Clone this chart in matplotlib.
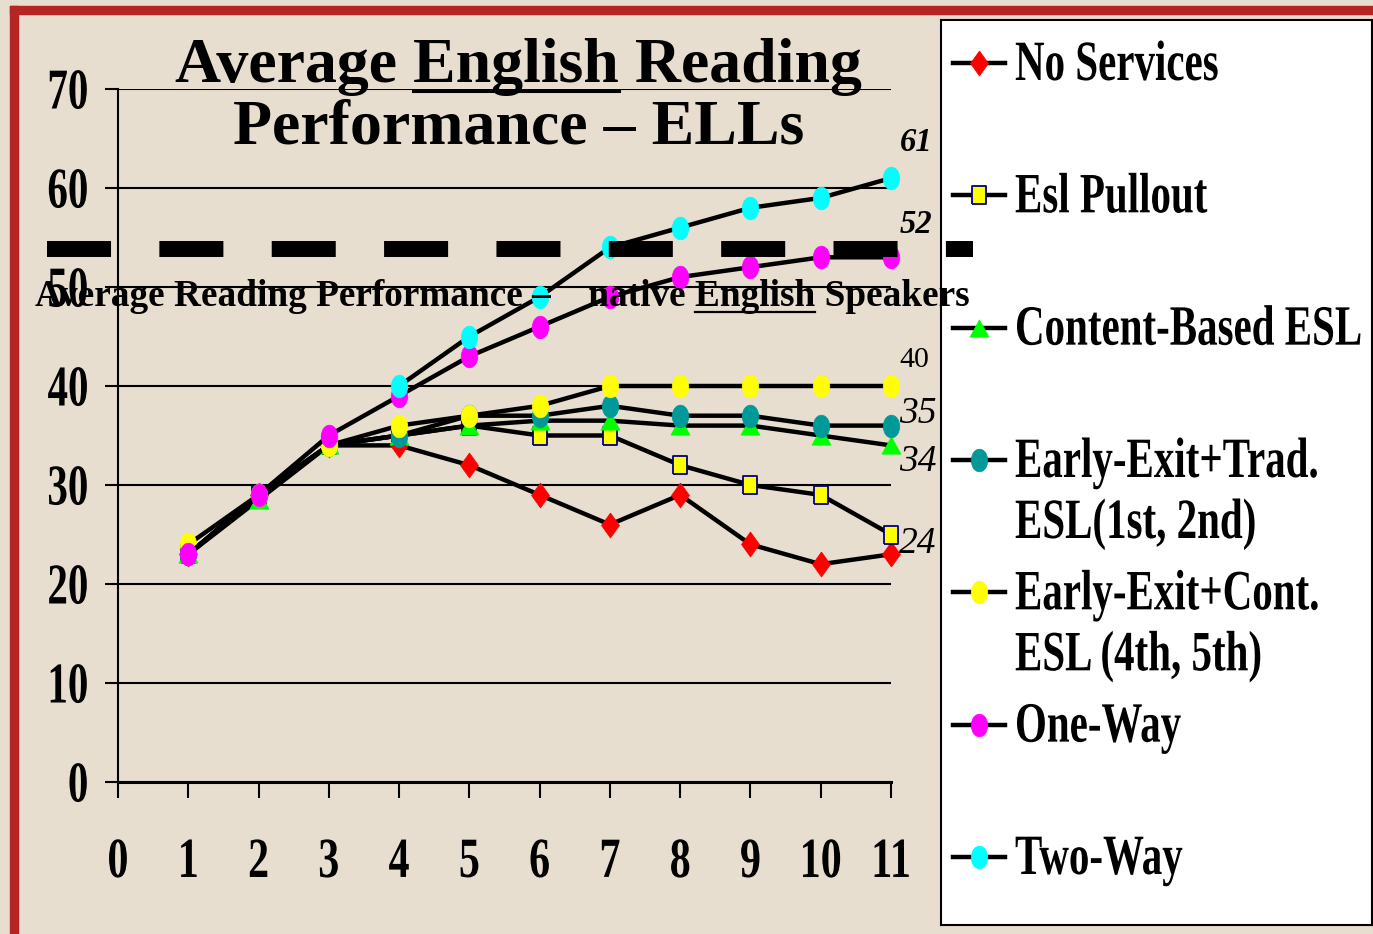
import numpy as np
import matplotlib
matplotlib.use('Agg')
import matplotlib.pyplot as plt
from matplotlib.path import Path
from matplotlib.transforms import Affine2D
from matplotlib.patheffects import AbstractPathEffect
from matplotlib.patches import Rectangle
from matplotlib.lines import Line2D

plt.rcParams['font.family'] = ['Liberation Serif', 'DejaVu Serif']
plt.rcParams['lines.scale_dashes'] = False

# ---- data ----
grades = [1, 2, 3, 4, 5, 6, 7, 8, 9, 10, 11]
no_services = [23, 29, 34, 34, 32, 29, 26, 29, 24, 22, 23]
esl_pullout = [23, 29, 34, 35, 36, 35, 35, 32, 30, 29, 25]
content_esl = [23, 28.5, 34, 35, 36, 36.5, 36.5, 36, 36, 35, 34]
early_trad = [23, 29, 34, 35, 37, 37, 38, 37, 37, 36, 36]
early_cont = [24, 29, 34, 36, 37, 38, 40, 40, 40, 40, 40]
one_way = [23, 29, 35, 39, 43, 46, 49, 51, 52, 53, 53]
two_way = [np.nan, np.nan, np.nan, 40, 45, 49, 54, 56, 58, 59, 61]

series_names = ["No Services", "Esl Pullout", "Content-Based ESL",
                "Early-Exit+Trad.\nESL(1st, 2nd)",
                "Early-Exit+Cont.\nESL (4th, 5th)", "One-Way", "Two-Way"]
native_avg = 53.8
x_ticks = list(range(0, 12))
y_ticks = list(range(0, 71, 10))

# labels printed at the end of the lines
end_labels = ["61", "52", "40", "35", "34", "24"]
end_label_y = [64.6, 56.3, 42.6, 37.2, 32.3, 24.1]


class Stretch(AbstractPathEffect):
    """stretch text vertically, to mimic the condensed face of the original"""
    def __init__(self, sy, anchor='baseline'):
        super().__init__()
        self.sy = sy
        self.anchor = anchor

    def draw_path(self, renderer, gc, tpath, affine, rgbFace=None):
        if len(tpath.vertices) == 0:
            return
        if self.anchor == 'baseline':
            y0 = affine.transform(np.array([[0.0, 0.0]]))[0, 1]
        else:
            ext = tpath.get_extents(affine)
            y0 = ext.y1 if self.anchor == 'top' else 0.5 * (ext.y0 + ext.y1)
        t = affine + Affine2D().translate(0, -y0).scale(1, self.sy).translate(0, y0)
        renderer.draw_path(gc, tpath, t, rgbFace)


def oval(w=0.73):
    c = Path.unit_circle()
    return Path(c.vertices * [w, 1.0], c.codes)


diamond = [(0, 1), (0.72, 0), (0, -1), (-0.72, 0), (0, 1)]
square = [(-0.85, -1), (0.85, -1), (0.85, 1), (-0.85, 1), (-0.85, -1)]
triangle = [(0, 1), (-1.1, -1), (1.1, -1), (0, 1)]

styles = [
    dict(marker=diamond, ms=18, mfc='#ff0000', mec='#ff0000', mew=0.5),
    dict(marker=square, ms=12.5, mfc='#ffff00', mec='#000080', mew=1.3),
    dict(marker=triangle, ms=13.7, mfc='#00ff00', mec='#00ff00', mew=0.5),
    dict(marker=oval(), ms=16.3, mfc='#009999', mec='#009999', mew=0.5),
    dict(marker=oval(), ms=16.3, mfc='#ffff00', mec='#ffff00', mew=0.5),
    dict(marker=oval(), ms=16.3, mfc='#ff00ff', mec='#ff00ff', mew=0.5),
    dict(marker=oval(), ms=16.3, mfc='#00ffff', mec='#00ffff', mew=0.5),
]
series = [no_services, esl_pullout, content_esl, early_trad, early_cont,
          one_way, two_way]

BG = '#e7decf'
RED = '#b52623'
W, H = 1373, 934

fig = plt.figure(figsize=(W / 100, H / 100), dpi=100, facecolor=BG)

# red frame on top and left
fig.patches.append(Rectangle((10 / W, 0), 8 / W, (H - 6) / H,
                             transform=fig.transFigure, color=RED, zorder=0))
fig.patches.append(Rectangle((10 / W, (H - 14) / H), 1 - 10 / W, 8 / H,
                             transform=fig.transFigure, color=RED, zorder=0))

ax = fig.add_axes([118 / W, 152 / H, 773 / W, 693 / H], facecolor=BG, zorder=2)

for vals, st in zip(series, styles):
    ax.plot(grades, vals, color='black', lw=3.2, clip_on=False, zorder=3, **st)

ax.axhline(native_avg, xmin=-0.092, xmax=1.106, color='black', lw=11.5,
           dashes=(46.1, 34.8), solid_capstyle='butt', clip_on=False, zorder=5)

ax.set_xlim(0, 11)
ax.set_ylim(0, 70)
ax.set_xticks(x_ticks, [str(v) for v in x_ticks])
ax.set_yticks(y_ticks, [str(v) for v in y_ticks])
ax.yaxis.grid(True, color='black', lw=1.5)
ax.set_axisbelow(True)
for s in ['top', 'right']:
    ax.spines[s].set_visible(False)
ax.spines['left'].set_linewidth(1.5)
ax.spines['bottom'].set_linewidth(2.2)
ax.tick_params(axis='y', direction='out', length=9.4, width=1.5, pad=12,
               labelsize=29.5)
ax.tick_params(axis='x', direction='out', length=11.5, width=1.5, pad=29,
               labelsize=30.3)
for lab in ax.get_yticklabels():
    lab.set_fontweight('bold')
    lab.set_path_effects([Stretch(1.41, 'center')])
for lab in ax.get_xticklabels():
    lab.set_fontweight('bold')
    lab.set_path_effects([Stretch(1.35, 'top')])

# numbers at the end of the lines
for txt, yv in zip(end_labels, end_label_y):
    if txt == "40":
        ax.text(11.33, yv, txt, ha='center', va='center', fontsize=21.5,
                clip_on=False, zorder=6)
    elif txt in ("61", "52"):
        ax.text(11.36, yv, txt, ha='center', va='center', fontsize=23.5,
                style='italic', fontweight='bold', clip_on=False, zorder=6)
    else:
        ax.text(11.38, yv, txt, ha='center', va='center', fontsize=27,
                style='italic', clip_on=False, zorder=6)

# ---- legend box ----
lax = fig.add_axes([941 / W, 9 / H, 431 / W, 905 / H], facecolor='white', zorder=1)
lax.set_xlim(941, 1372)
lax.set_ylim(925, 20)
lax.set_xticks([])
lax.set_yticks([])
for s in lax.spines.values():
    s.set_linewidth(1.5)
    s.set_color('black')

for i, (name, st) in enumerate(zip(series_names, styles)):
    yc = 63 + i * 132.33
    lax.plot([953, 979, 1005], [yc, yc, yc], color='black', lw=3.2,
             markevery=[1], clip_on=False, **st)
    for j, line in enumerate(name.split('\n')):
        lax.text(1015, yc + 17 + j * 61, line, ha='left', va='baseline',
                 fontsize=29.5, fontweight='bold', clip_on=False,
                 path_effects=[Stretch(1.39, 'baseline')])

# ---- titles ----
fig.text(518.5 / W, 1 - 82 / H, "Average English Reading", ha='center',
         va='baseline', fontsize=46, fontweight='bold', zorder=6)
fig.text(518.5 / W, 1 - 143 / H, "Performance – ELLs", ha='center',
         va='baseline', fontsize=46, fontweight='bold', zorder=6)
note = "Average Reading Performance –    native English Speakers"
fig.text(35 / W, 1 - 306 / H, note, ha='left', va='baseline',
         fontsize=26.8, fontweight='bold', zorder=6)

# underline the word "English" in both texts
renderer = fig.canvas.get_renderer()


def text_width(s, size):
    tmp = fig.text(0, 0, s, fontsize=size, fontweight='bold')
    w = tmp.get_window_extent(renderer).width
    tmp.remove()
    return w


w_full = text_width("Average English Reading", 46)
x_left = 518.5 - w_full / 2
x_end = x_left + text_width("Average English", 46)
x_start = x_end - text_width("English", 46)
fig.add_artist(Line2D([x_start / W, x_end / W], [1 - 91 / H, 1 - 91 / H],
                      transform=fig.transFigure, color='black', lw=2.2, zorder=6))

x_end = 35 + text_width(note[:note.index("English") + 7], 26.8)
x_start = x_end - text_width("English", 26.8)
fig.add_artist(Line2D([x_start / W, x_end / W], [1 - 312 / H, 1 - 312 / H],
                      transform=fig.transFigure, color='black', lw=1.6, zorder=6))

fig.savefig('out.png', dpi=100, facecolor=BG)
